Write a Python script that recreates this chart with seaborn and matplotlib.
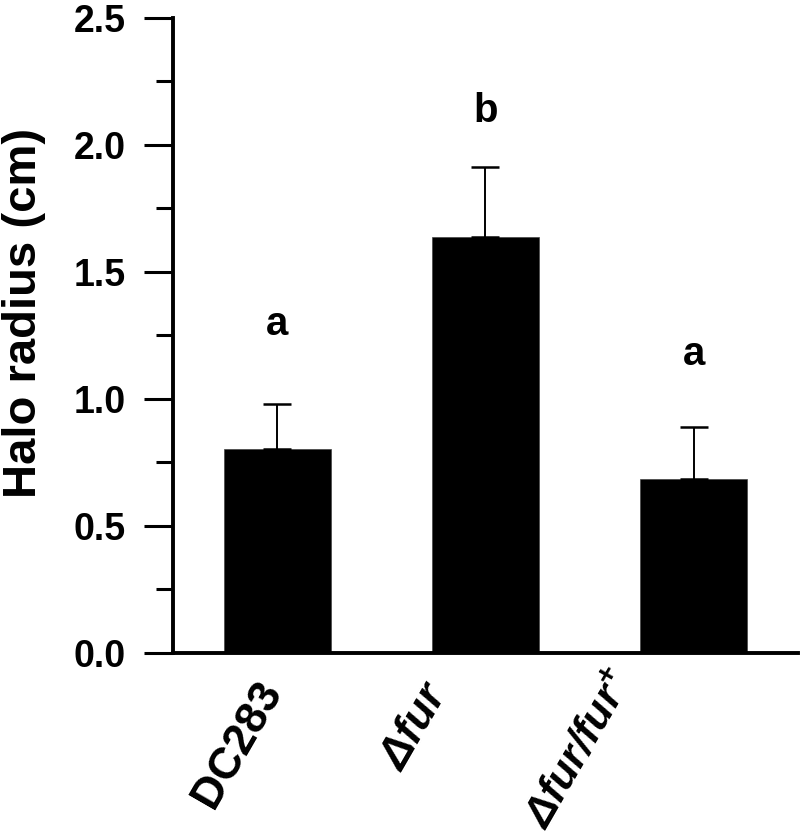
import matplotlib
matplotlib.use("Agg")
import matplotlib.pyplot as plt
import seaborn as sns
import pandas as pd
from matplotlib.ticker import MultipleLocator
from matplotlib.transforms import ScaledTranslation, blended_transform_factory

# ---- data ----
strains = ["DC283", "Δfur", "Δfur/fur+"]
strain_labels = ["DC283", r"$\mathbfit{Δfur}$", r"$\mathbfit{Δfur/fur}^{\mathbf{+}}$"]
halo_mean = [0.803, 1.638, 0.685]
halo_err = [0.177, 0.275, 0.205]
letters = ["a", "b", "a"]
letter_y = [1.25, 2.09, 1.135]

sns.set_theme(style="ticks")
plt.rcParams["font.family"] = ["Liberation Sans", "DejaVu Sans"]
plt.rcParams["font.weight"] = "bold"
plt.rcParams["text.color"] = "black"
plt.rcParams["axes.labelcolor"] = "black"
plt.rcParams["xtick.color"] = "black"
plt.rcParams["ytick.color"] = "black"
plt.rcParams["mathtext.fontset"] = "custom"
plt.rcParams["mathtext.bfit"] = "Liberation Sans:bold:italic"
plt.rcParams["mathtext.bf"] = "Liberation Sans:bold"
plt.rcParams["mathtext.it"] = "Liberation Sans:italic"
plt.rcParams["mathtext.rm"] = "Liberation Sans"

df = pd.DataFrame({"strain": strains, "halo": halo_mean})

fig = plt.figure(figsize=(8, 8.39), dpi=100)
ax = fig.add_axes([0.21625, 0.2217, 0.78125, 0.7569])

sns.barplot(data=df, x="strain", y="halo", color="black", width=0.514,
            saturation=1, errorbar=None, ax=ax, edgecolor="#444444", linewidth=0.5)

ax.errorbar(x=list(range(len(strains))), y=halo_mean,
            yerr=[[0] * len(halo_err), halo_err], fmt="none",
            ecolor="black", elinewidth=1.4, capsize=10, capthick=1.8, zorder=1)

for i, (lab, yy) in enumerate(zip(letters, letter_y)):
    ax.text(i, yy, lab, ha="center", va="baseline", fontsize=29, fontweight="bold",
            color="black")

ax.set_xlim(-0.5, 2.5)
ax.set_ylim(0, 2.5)
ax.yaxis.set_minor_locator(MultipleLocator(0.25))
ax.set_yticks([0, 0.5, 1.0, 1.5, 2.0, 2.5])
ax.set_yticklabels(["0.0", "0.5", "1.0", "1.5", "2.0", "2.5"], fontsize=27, fontweight="bold")

ax.set_xticks(range(len(strains)))
ax.tick_params(axis="x", length=0, labelbottom=False)

# rotated category labels, anchored at each category position
base = blended_transform_factory(ax.transData, ax.transAxes)
offsets = [(-23, -21), (-65, -22), (-86, -11)]
sizes = [32, 32, 31]
for i, (lab, (dx, dy), fs) in enumerate(zip(strain_labels, offsets, sizes)):
    tr = base + ScaledTranslation(dx / 100, dy / 100, fig.dpi_scale_trans)
    ax.text(i, 0, lab, transform=tr, fontsize=fs, fontweight="bold", rotation=60,
            ha="right", va="top", rotation_mode="anchor", color="black", clip_on=False)

ax.tick_params(axis="y", which="major", length=21, width=2.2, pad=13, direction="out")
ax.tick_params(axis="y", which="minor", length=12, width=2.2, direction="out")

ax.set_xlabel("")
ax.set_ylabel("Halo radius (cm)", fontsize=34, fontweight="bold")
ax.yaxis.set_label_coords(-0.203, 0.535)

sns.despine(ax=ax)
for s in ["left", "bottom"]:
    ax.spines[s].set_linewidth(2.8)
    ax.spines[s].set_color("black")

fig.savefig("out.png", dpi=100, facecolor="white")
